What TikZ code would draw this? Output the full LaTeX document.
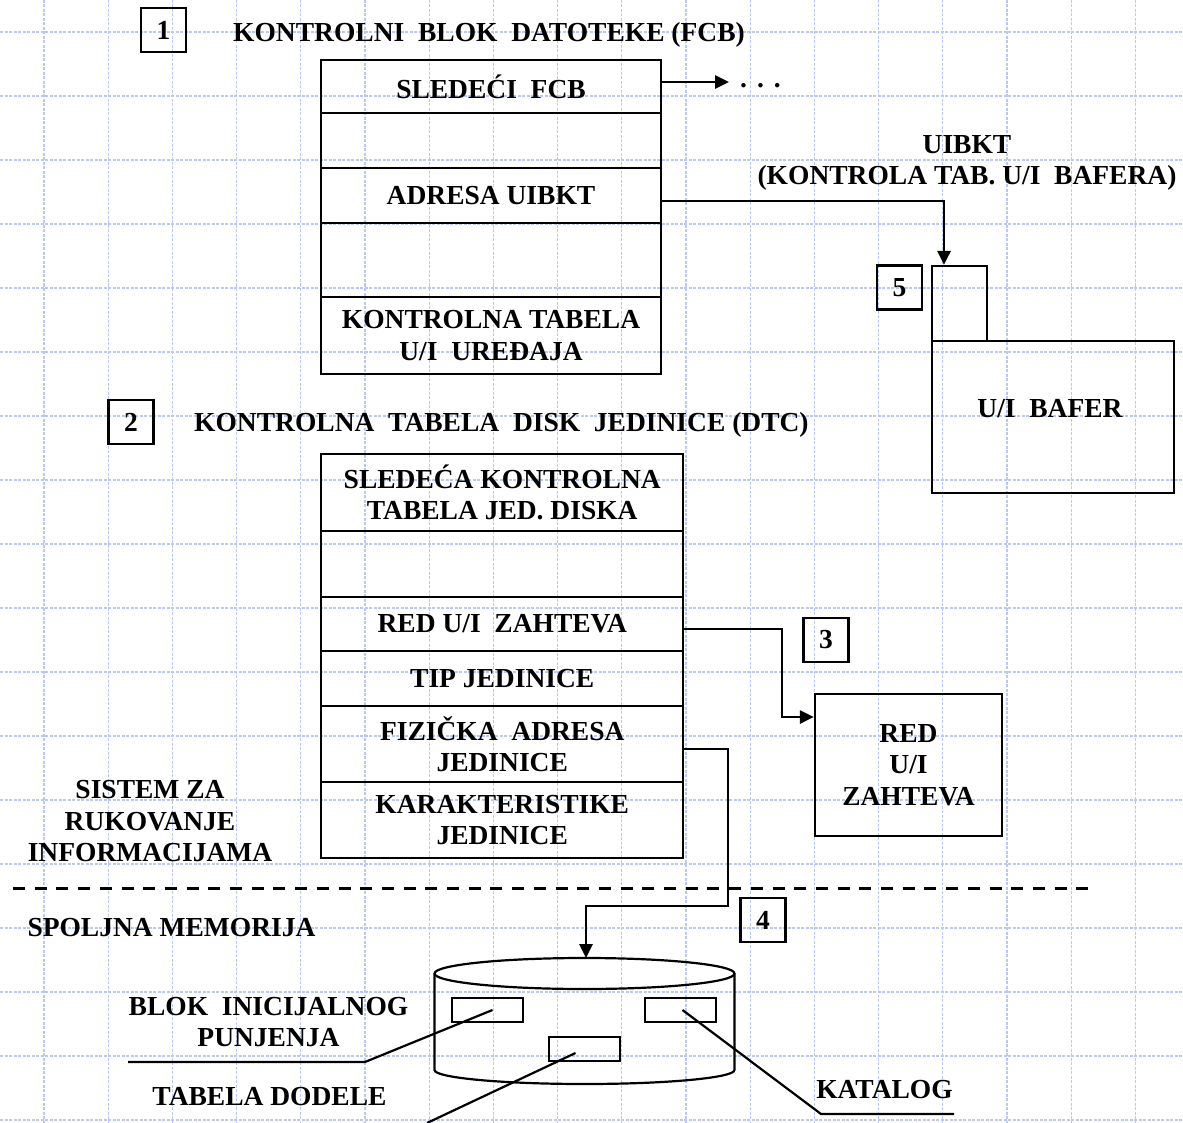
\documentclass[tikz,border=0pt]{standalone}
\usepackage{fontspec}
\setmainfont{Liberation Serif}
\usetikzlibrary{arrows.meta,positioning,calc}
\definecolor{gridblue}{HTML}{BCC8F2}
\definecolor{inkblack}{HTML}{000000}
\tikzset{
  >={Triangle[length=14pt,width=13pt]},
  lbl/.style={font=\fontsize{27.5}{31.5}\selectfont\bfseries, align=center, inner sep=0pt},
  cell/.style={
    rectangle, draw=inkblack, line width=2.2pt, align=center, inner sep=0pt,
    font=\fontsize{27.5}{31.5}\selectfont\bfseries
  },
  fcbcell/.style={cell, minimum width=340},
  dtccell/.style={cell, minimum width=362},
  numbox/.style={cell, minimum width=45, minimum height=44},
  diskblk/.style={cell, minimum width=71, minimum height=24},
  wire/.style={line width=2pt, draw=inkblack},
  ptr/.style={->, line width=2.8pt, draw=inkblack, line cap=rect},
  leader/.style={line width=2.2pt, draw=inkblack},
  gridline/.style={draw=gridblue, line width=1.3pt, dash pattern=on 3pt off 1.5pt},
  sepline/.style={line width=3pt, draw=inkblack, dash pattern=on 12pt off 9.7pt}
}
\newcommand{\numbox}[3]{\node[numbox] (#1) at (#2) {#3};}

\begin{document}
\begin{tikzpicture}[x=1pt,y=-1pt]
\useasboundingbox (0,0) rectangle (1183,1123);
\fill[white] (0,0) rectangle (1183,1123);
\foreach \gx in {0,...,17} \draw[gridline] ({44+64.2*\gx},0) -- ({44+64.2*\gx},1123);
\foreach \gy in {0,...,17} \draw[gridline] (0,{32+64*\gy}) -- (1183,{32+64*\gy});

\numbox{nb1}{163.5,30}{1}
\node[lbl, anchor=west] (fcbtitle) at (233,34.5) {KONTROLNI\ \ BLOK\ \ DATOTEKE (FCB)};
\node[fcbcell, minimum height=53] (fcbnext) at (491,86.5) {SLEDEĆI\ \ FCB};
\node[fcbcell, minimum height=55] (fcbgap1) at (491,140.5) {};
\node[fcbcell, minimum height=55] (fcbuib) at (491,195.5) {ADRESA UIBKT};
\node[fcbcell, minimum height=74] (fcbgap2) at (491,260) {};
\node[fcbcell, minimum height=77] (fcbdev) at (491,335.5) {KONTROLNA TABELA\\U/I\ \ UREĐAJA};

\node[lbl, anchor=base west] (fcbdots) at (740,88) {.\hspace{10pt}.\hspace{10pt}.};
\coordinate (fcbtip) at (729,82);
\draw[ptr] (fcbnext.east |- fcbtip) -- (fcbtip);

\node[lbl] (uibtitle) at (967,163) {UIBKT\\(KONTROLA TAB. U/I\ \ BAFERA)};
\numbox{nb5}{899.5,287.5}{5}
\node[cell, minimum width=55, minimum height=75] (bufhead) at (959.5,303.5) {};
\node[cell, minimum width=242, minimum height=152] (bufbox) at (1053,417) {};
\node[lbl] (buftext) at (1050,409) {U/I\ \ BAFER};
\coordinate (uibbend) at (944,201);
\draw[wire] (fcbuib.east |- uibbend) -- (uibbend);
\draw[ptr] (uibbend) -- (uibbend |- bufhead.north);

\numbox{nb2}{131,422}{2}
\node[lbl, anchor=west] (dtctitle) at (194,425) {KONTROLNA\ \ TABELA\ \ DISK\ \ JEDINICE (DTC)};
\node[dtccell, minimum height=77] (dtcnext) at (502.25,492.5) {SLEDEĆA KONTROLNA\\TABELA JED. DISKA};
\node[dtccell, minimum height=66] (dtcgap) at (502.25,564) {};
\node[dtccell, minimum height=54] (dtcqueue) at (502.25,624) {RED U/I\ \ ZAHTEVA};
\node[dtccell, minimum height=55] (dtctype) at (502.25,678.5) {TIP JEDINICE};
\node[dtccell, minimum height=76] (dtcaddr) at (502.25,744) {FIZIČKA\ \ ADRESA\\JEDINICE};
\node[dtccell, minimum height=76] (dtcchar) at (502.25,820) {KARAKTERISTIKE\\JEDINICE};

\numbox{nb3}{826,640}{3}
\node[cell, minimum width=187, minimum height=142] (redbox) at (908.5,765) {RED\\U/I\\ZAHTEVA};
\coordinate (redbend1) at (782,629);
\coordinate (redbend2) at (782,717);
\draw[wire] (dtcqueue.east |- redbend1) -- (redbend1) -- (redbend2);
\draw[ptr] (redbend2) -- (redbend2 -| redbox.west);

\node[lbl] (infolbl) at (150,821.5) {SISTEM ZA\\RUKOVANJE\\INFORMACIJAMA};
\draw[sepline] (13,888) -- (1090,888);
\node[lbl] (memlbl) at (171.5,928) {SPOLJNA MEMORIJA};
\numbox{nb4}{763,920}{4}

\coordinate (diskc) at (584.5,973.5);
\coordinate (disktop) at (584.5,958);
\draw[leader] (diskc) ellipse [x radius=150pt, y radius=15.5pt];
\draw[leader] (434.5,973.5) -- (434.5,1070)
  arc[start angle=180, end angle=360, x radius=150pt, y radius=14pt] -- (734.5,973.5);
\node[diskblk] (bootblk) at (487.5,1010) {};
\node[diskblk] (catblk) at (680.5,1010) {};
\node[diskblk] (allocblk) at (584.5,1049) {};

\coordinate (addrbend1) at (728,749);
\coordinate (addrbend2) at (728,906);
\coordinate (addrbend3) at (586,906);
\draw[wire] (dtcaddr.east |- addrbend1) -- (addrbend1) -- (addrbend2) -- (addrbend3);
\draw[ptr] (addrbend3) -- (addrbend3 |- disktop);

\node[lbl] (bootlbl) at (268.5,1022) {BLOK\ \ INICIJALNOG\\PUNJENJA};
\node[lbl] (alloclbl) at (269.5,1097) {TABELA DODELE};
\node[lbl] (catlbl) at (884.5,1090) {KATALOG};
\coordinate (bootknee) at (365,1062);
\coordinate (bootend) at (128,1062);
\coordinate (alloctail) at (427,1123);
\coordinate (catknee) at (821,1114);
\coordinate (catend) at (954,1114);
\draw[leader] ([xshift=5pt]bootblk.center) -- (bootknee) -- (bootend);
\draw[leader] ([xshift=-9pt,yshift=-4pt]allocblk.center) -- (alloctail);
\draw[leader] ([xshift=2pt]catblk.center) -- (catknee) -- (catend);
\end{tikzpicture}
\end{document}
